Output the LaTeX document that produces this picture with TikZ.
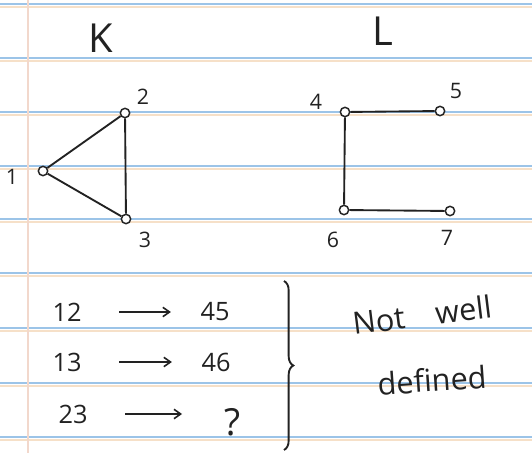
\documentclass[tikz,border=0pt]{standalone}
\usepackage{fontspec}
\setmainfont{Open Sans}
\usetikzlibrary{arrows.meta,decorations.pathreplacing}
\definecolor{rule}{HTML}{9CC4E8}
\definecolor{ruleo}{HTML}{F6E0C8}
\definecolor{margin}{HTML}{F2D8CC}
\definecolor{pen}{HTML}{222222}
\tikzset{
  vtx/.style={circle,draw=pen,fill=white,line width=1.1pt,inner sep=0pt,minimum size=7pt},
  edge/.style={draw=pen,line width=1.4pt},
  lbl/.style={text=pen,font=\fontsize{16}{18}\selectfont,inner sep=0pt},
  title/.style={text=pen,font=\fontsize{30}{32}\selectfont,inner sep=0pt},
  row/.style={text=pen,font=\fontsize{19}{21}\selectfont,inner sep=0pt},
  note/.style={text=pen,font=\fontsize{23}{25}\selectfont,inner sep=0pt},
  maps/.style={draw=pen,line width=1.2pt,-{Straight Barb[length=5pt,width=7pt]}},
}
\begin{document}
\begin{tikzpicture}[x=0.75pt,y=-0.75pt]
\useasboundingbox (0,0) rectangle (532,453);
\fill[white] (0,0) rectangle (532,453);
% ruled paper
\foreach \y in {4,58,112,166,219,273,328,383,437}{
  \draw[ruleo,line width=1.2pt] (0,\y+3) -- (532,\y+3);
  \draw[rule,line width=1.3pt] (0,\y) -- (532,\y);
}
\draw[margin,line width=1.2pt] (28,0) -- (28,453);
% K
\node[title] (K) at (101,38) {K};
\node[vtx] (n1) at (43,171) {};
\node[vtx] (n2) at (125,113) {};
\node[vtx] (n3) at (126,219) {};
\draw[edge] (n1) -- (n2);
\draw[edge] (n1) -- (n3);
\draw[edge] (n2) -- (n3);
\node[lbl] (l1) at (12,177) {1};
\node[lbl] (l2) at (143,97) {2};
\node[lbl] (l3) at (145,240) {3};
% L
\node[title] (L) at (383,31) {L};
\node[vtx] (n4) at (345,112) {};
\node[vtx] (n5) at (440,111) {};
\node[vtx] (n6) at (344,210) {};
\node[vtx] (n7) at (450,211) {};
\draw[edge] (n4) -- (n5);
\draw[edge] (n4) -- (n6);
\draw[edge] (n6) -- (n7);
\node[lbl] (l4) at (316,102) {4};
\node[lbl] (l5) at (456,91) {5};
\node[lbl] (l6) at (333,240) {6};
\node[lbl] (l7) at (447,238) {7};
% mappings
\node[row] (a1) at (67,312) {12};
\node[row] (b1) at (215,312) {45};
\node[row] (a2) at (67,362) {13};
\node[row] (b2) at (216,362) {46};
\node[row] (a3) at (73,414) {23};
\node[row,font=\fontsize{28}{30}\selectfont] (b3) at (233,422) {?};
\draw[maps] ([xshift=28pt]a1.east) -- ([xshift=-22pt]b1.west);
\draw[maps] ([xshift=28pt]a2.east) -- ([xshift=-22pt]b2.west);
\draw[maps] ([xshift=28pt]a3.east) -- ([xshift=-32pt]b3.west |- a3.east);
% brace
\coordinate (bt) at (284,281);
\coordinate (bb) at (284,450);
\draw[pen,line width=1.4pt,decorate,decoration={brace,amplitude=7pt}] (bt) -- (bb);
\node[note,rotate=7] (nw) at (422,315) {Not\hspace{1em}well};
\node[note,rotate=4] (df) at (432,380) {defined};
\end{tikzpicture}
\end{document}
